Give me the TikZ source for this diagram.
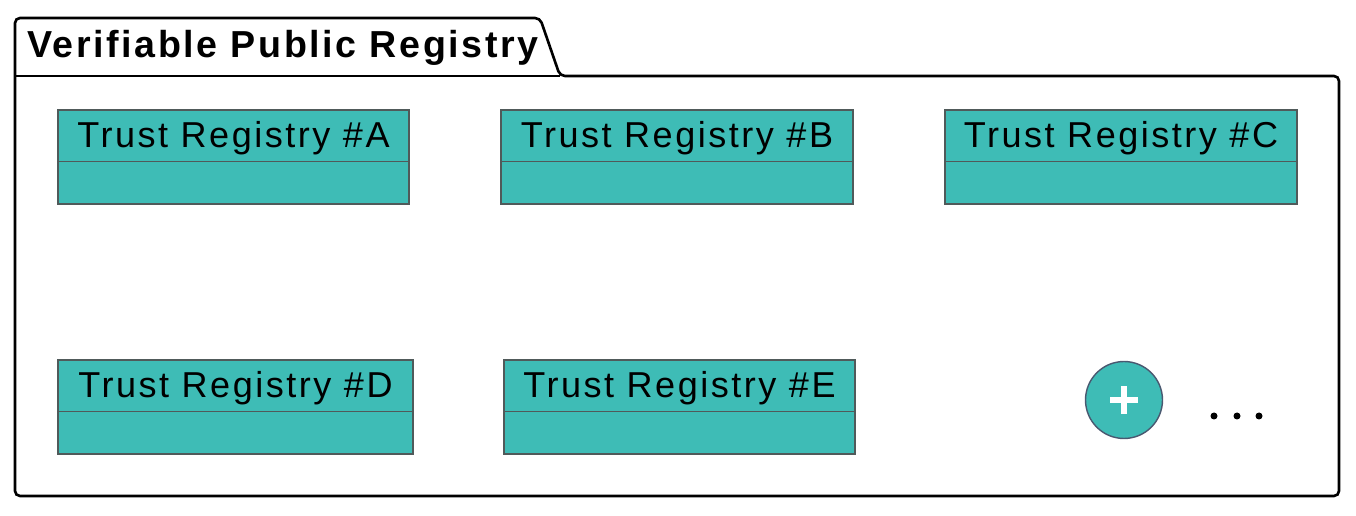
\documentclass[tikz,border=0pt]{standalone}
\usepackage{fontspec}
\setmainfont{Liberation Sans}
\newfontfamily\titlefont[LetterSpace=6.9]{Liberation Sans}
\newfontfamily\boxfont[LetterSpace=7]{Liberation Sans}
\usetikzlibrary{positioning}
\definecolor{regfill}{HTML}{3EBCB6}
\definecolor{regline}{HTML}{505A5A}
\definecolor{addline}{HTML}{4A5870}
\tikzset{
  regbox/.style={draw=regline, fill=regfill, line width=0.8pt, minimum height=1.88cm, inner sep=0pt},
  regtext/.style={anchor=base, font=\boxfont\fontsize{20.5}{23}\selectfont, inner sep=0pt},
  regsep/.style={draw=regline, line width=0.8pt},
  pkgline/.style={line width=1.5pt, rounded corners=0.1cm}
}
\begin{document}
\begin{tikzpicture}[x=0.02cm,y=-0.02cm]
        \useasboundingbox (0,0) rectangle (1356,516);
        %disegno package
        \draw[pkgline](15,496)--(15,18)--(540,18)--(560,76)--(1339,76)--(1339,496)--cycle;
        \draw[line width=1.5pt](15,76)--(560,76); %linea sotto la linguetta
        \node[anchor=base west, inner sep=0pt, font=\titlefont\bfseries\fontsize{21.4}{24}\selectfont] (title) at (27,58) {Verifiable Public Registry};
        %registri prima riga
        \node[regbox, minimum width=7.02cm] (regA) at (233.5,157) {};
        \node[regbox, minimum width=7.04cm] (regB) at (677,157) {};
        \node[regbox, minimum width=7.04cm] (regC) at (1121,157) {};
        %registri seconda riga
        \node[regbox, minimum width=7.1cm] (regD) at (235.5,407) {};
        \node[regbox, minimum width=7.02cm] (regE) at (679.5,407) {};
        \foreach \r/\l in {A/A,B/B,C/C,D/D,E/E}{
          \node[regtext] (txt\r) at ([yshift=-0.76cm]reg\r.north) {Trust Registry \#\l};
          \draw[regsep]([yshift=-1.04cm]reg\r.north west)--([yshift=-1.04cm]reg\r.north east);
        }
        %bottone aggiungi e puntini
        \node[circle, draw=addline, fill=regfill, line width=0.8pt, minimum size=1.54cm] (add) at (1124,400) {};
        \draw[white, line width=3.4pt]([xshift=-0.28cm]add.center)--([xshift=0.28cm]add.center);
        \draw[white, line width=3.4pt]([yshift=-0.28cm]add.center)--([yshift=0.28cm]add.center);
        \foreach \x in {1214,1237,1259} \fill (\x,416) circle (3.5);
    \end{tikzpicture}
\end{document}
